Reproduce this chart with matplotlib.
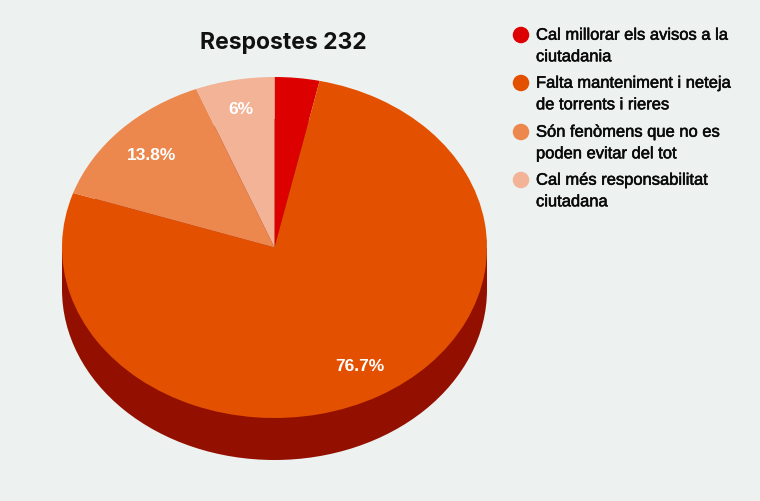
import matplotlib
matplotlib.use('Agg')
import matplotlib.pyplot as plt
import matplotlib.patheffects as pe
from matplotlib.patches import Rectangle, Ellipse

plt.rcParams['font.family'] = ['Liberation Sans', 'DejaVu Sans']

title = 'Respostes 232'
labels = ['Cal millorar els avisos a la\nciutadania',
          'Falta manteniment i neteja\nde torrents i rieres',
          'Són fenòmens que no es\npoden evitar del tot',
          'Cal més responsabilitat\nciutadana']
values = [3.4, 76.7, 13.8, 6.0]
pct_labels = ['', '76.7%', '13.8%', '6%']
colors = ['#dc0000', '#e35100', '#ec874d', '#f2b396']
side_color = '#931000'
bg = '#edf1f0'

W, H = 760, 501
fig = plt.figure(figsize=(W/100, H/100), dpi=100, facecolor=bg)

# pie top ellipse box in pixels
left, right, top, bottom = 62, 487, 77, 418
depth = 42
ax = fig.add_axes([left/W, 1-bottom/H, (right-left)/W, (bottom-top)/H])
ry = (bottom-top)/2
d = depth/ry

# side of the cylinder first
ax.add_patch(Ellipse((0, -d), 2, 2, color=side_color, lw=0, clip_on=False))
ax.add_patch(Rectangle((-1, -d), 2, d, color=side_color, lw=0, clip_on=False))

wedges, _ = ax.pie(values, colors=colors, startangle=90, counterclock=False,
                   radius=1, wedgeprops={'linewidth': 0})
for w in wedges:
    w.set_clip_on(False)
ax.set_aspect('auto')
ax.set_xlim(-1, 1)
ax.set_ylim(-1, 1)
ax.axis('off')

# percentage labels, placed by hand like the original
lab_pos = [None, (0.40, -0.70), (-0.58, 0.54), (-0.16, 0.81)]
for txt, p in zip(pct_labels, lab_pos):
    if p is not None:
        ax.text(p[0], p[1], txt, color='white', fontsize=12.5, fontweight='bold',
                ha='center', va='center')

fig.text(283/W, 1-43/H, title, fontsize=16.5, fontweight='bold', color='#111111',
         family=['Inter', 'Liberation Sans'], ha='center', va='center')

# legend
leg_y = [35, 83, 132, 180]
for lab, c, y in zip(labels, colors, leg_y):
    fig.add_artist(Ellipse((521/W, 1-y/H), 16.5/W, 16.5/H, transform=fig.transFigure,
                           color=c, lw=0))
    t = fig.text(536/W, 1-(y+11)/H, lab, fontsize=11.9, color='#0a0a0a',
                 ha='left', va='center', linespacing=1.55)
    # original text looks a bit heavier than regular
    t.set_path_effects([pe.withStroke(linewidth=0.4, foreground='#0a0a0a')])

fig.savefig('out.png', dpi=100, facecolor=bg)
